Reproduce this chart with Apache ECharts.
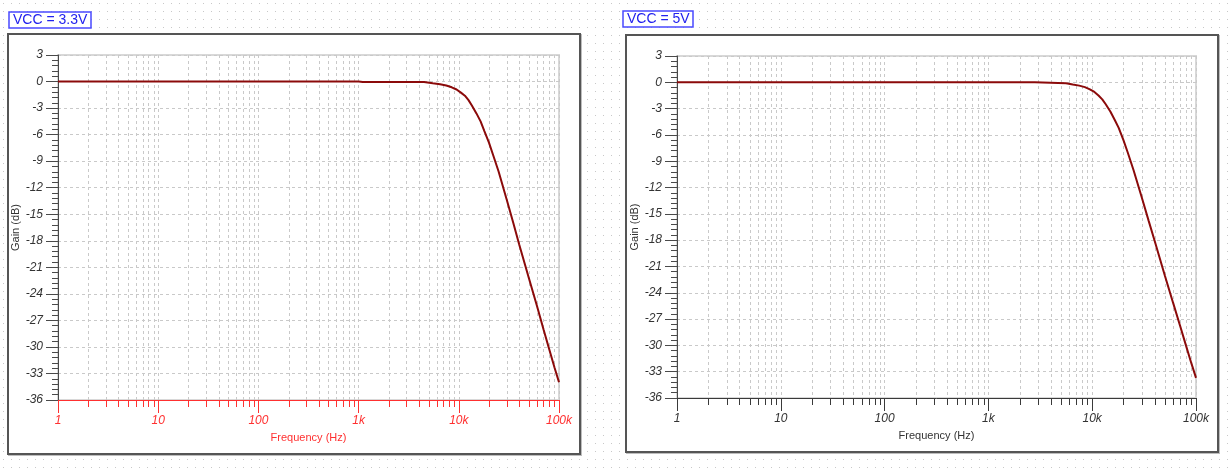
<!DOCTYPE html>
<html>
<head>
<meta charset="utf-8">
<script src="https://cdn.jsdelivr.net/npm/echarts/dist/echarts.min.js"></script>
<style>
  html, body { margin: 0; padding: 0; }
  body {
    width: 1230px; height: 475px; position: relative; overflow: hidden;
    background-color: #ffffff;
    background-image: url("data:image/svg+xml;utf8,<svg xmlns='http://www.w3.org/2000/svg' width='8' height='8'><rect x='3' y='3' width='1' height='1' fill='%23c8c8c8'/></svg>");
  }
  .box { position: absolute; background: #ffffff; border: 2px solid #555555; box-sizing: border-box; box-shadow: 1px 1px 0 #bdbdbd; }
  #chart { position: absolute; left: 0; top: 0; width: 1230px; height: 475px; }
</style>
</head>
<body>
<div class="box" style="left:7px; top:33px; width:574px; height:422px;"></div>
<div class="box" style="left:625px; top:34px; width:594px; height:419px;"></div>
<div id="chart"></div>
<script>
// ---- data ----
const titles = ['VCC = 3.3V', 'VCC = 5V'];
const freqL = [1, 10, 100, 1000, 1100, 4500, 4700, 5500, 6500, 7500, 8500, 9500, 10500, 11500, 12500, 13500, 15000, 16500, 18000, 20000, 22000, 25000, 30000, 35000, 40000, 50000, 60000, 70000, 80000, 90000, 100000];
const gainL = [0, 0, 0, 0, -0.05, -0.06, -0.12, -0.2, -0.3, -0.45, -0.65, -0.9, -1.25, -1.6, -2.1, -2.7, -3.6, -4.5, -5.6, -6.9, -8.3, -10.2, -13.3, -16.0, -18.4, -22.2, -25.3, -28.0, -30.3, -32.3, -34.0];
const freqR = [1, 10, 100, 1000, 2800, 2900, 5600, 5800, 6500, 7500, 8500, 9500, 10500, 11500, 12500, 13500, 15000, 16500, 18000, 20000, 22000, 25000, 30000, 35000, 40000, 50000, 60000, 70000, 80000, 90000, 100000];
const gainR = [0, 0, 0, 0, 0, -0.05, -0.1, -0.18, -0.25, -0.38, -0.55, -0.8, -1.1, -1.5, -1.95, -2.5, -3.35, -4.3, -5.2, -6.6, -8.0, -10.0, -13.1, -15.8, -18.1, -22.0, -25.1, -27.7, -30.0, -32.0, -33.7];
const xTickValues = [1, 10, 100, 1000, 10000, 100000];
const xTickLabels = ['1', '10', '100', '1k', '10k', '100k'];
const minorMultipliers = [2, 3, 4, 5, 6, 7, 8, 9];
const yMin = -36, yMax = 3, yStep = 3;
const xName = 'Frequency (Hz)';
const yName = 'Gain (dB)';

// ---- build ----
const minorFreqs = [];
xTickValues.slice(0, -1).forEach(d => minorMultipliers.forEach(m => minorFreqs.push(d * m)));

const font = '"Liberation Sans", Arial, sans-serif';
const gridColor = '#c9c9c9';
const panels = [
  { grid: { left: 58, top: 55, width: 501, height: 345 }, xColor: '#ff3030', yColor: '#4a4a4a', yLabel: '#333333', xLabel: '#ff3030', freq: freqL, gain: gainL, titlePos: { left: 9, top: 12 } },
  { grid: { left: 677, top: 56, width: 519, height: 342 }, xColor: '#3a3a3a', yColor: '#4a4a4a', yLabel: '#333333', xLabel: '#333333', freq: freqR, gain: gainR, titlePos: { left: 623, top: 11 } }
];

function labelFor(v) {
  const i = xTickValues.findIndex(t => Math.abs(t - v) / t < 1e-6);
  return i >= 0 ? xTickLabels[i] : '';
}

const option = {
  animation: false,
  title: panels.map((p, i) => ({
    text: titles[i], left: p.titlePos.left, top: p.titlePos.top,
    padding: [1, 4, 1, 4], borderColor: '#4a4aff', borderWidth: 1.5, backgroundColor: '#ffffff',
    textStyle: { fontFamily: font, fontSize: 14, fontWeight: 'normal', color: '#2222ee' }
  })),
  grid: panels.map(p => Object.assign({ show: true, borderColor: '#d8d8d8', borderWidth: 2, backgroundColor: 'transparent' }, p.grid)),
  xAxis: panels.map((p, i) => ({
    type: 'log', logBase: 10, gridIndex: i, min: 1, max: 100000,
    name: xName, nameLocation: 'middle', nameGap: 32,
    nameTextStyle: { fontFamily: font, fontSize: 11, color: p.xLabel },
    axisLine: { onZero: false, lineStyle: { color: p.xColor, width: 1 } },
    axisTick: { show: true, length: 13, lineStyle: { color: p.xColor } },
    minorTick: { show: false },
    splitLine: { show: true, lineStyle: { color: gridColor, type: [3, 3], width: 1 } },
    axisLabel: { formatter: labelFor, fontFamily: font, fontSize: 12, fontStyle: 'italic', color: p.xLabel, margin: 15 }
  })),
  yAxis: panels.map((p, i) => ({
    type: 'value', gridIndex: i, min: yMin, max: yMax, interval: yStep,
    name: yName, nameLocation: 'middle', nameGap: 34, nameRotate: 90,
    nameTextStyle: { fontFamily: font, fontSize: 11, color: '#333333' },
    axisLine: { show: true, onZero: false, lineStyle: { color: p.yColor, width: 1 } },
    axisTick: { show: true, length: 12, lineStyle: { color: p.yColor } },
    minorTick: { show: true, splitNumber: 5, length: 6, lineStyle: { color: p.yColor } },
    splitLine: { show: true, lineStyle: { color: gridColor, type: [3, 3], width: 1 } },
    axisLabel: { fontFamily: font, fontSize: 12, fontStyle: 'italic', color: p.yLabel, margin: 15 }
  })),
  series: []
};

panels.forEach((p, i) => {
  option.series.push({
    type: 'custom', xAxisIndex: i, yAxisIndex: i, z: 1, clip: false, silent: true,
    data: minorFreqs.map(f => [f, yMin]),
    encode: { x: 0, y: 1 },
    renderItem: function (params, api) {
      const f = api.value(0);
      const top = api.coord([f, yMax]);
      const bot = api.coord([f, yMin]);
      const x = Math.round(top[0]) + 0.5;
      return {
        type: 'group',
        children: [
          { type: 'line', shape: { x1: x, y1: top[1], x2: x, y2: bot[1] }, style: { stroke: gridColor, lineWidth: 1, lineDash: [3, 3] } },
          { type: 'line', shape: { x1: x, y1: bot[1], x2: x, y2: bot[1] + 7 }, style: { stroke: p.xColor, lineWidth: 1 } }
        ]
      };
    }
  });
  option.series.push({
    type: 'line', xAxisIndex: i, yAxisIndex: i, z: 5,
    data: p.freq.map((f, k) => [f, p.gain[k]]),
    showSymbol: false, smooth: false,
    lineStyle: { color: '#8b0a0a', width: 2 }
  });
});

const chart = echarts.init(document.getElementById('chart'), null, { renderer: 'canvas' });
chart.setOption(option);
</script>
</body>
</html>
